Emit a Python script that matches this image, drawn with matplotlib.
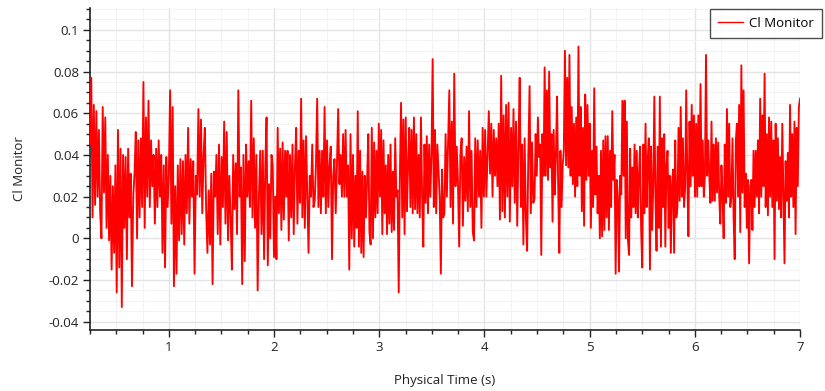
import numpy as np
import matplotlib
matplotlib.use("Agg")
import matplotlib.pyplot as plt
from matplotlib.ticker import MultipleLocator, FixedLocator, FixedFormatter

# Segment edges in time (s)
seg_edges = [0.25, 1.048, 1.905, 2.762, 3.619, 4.476, 5.333, 6.190, 7.0]

cl_seg1 = [0.045, 0.077, 0.010, 0.064, 0.016, 0.061, 0.020, 0.052, 0.012, 0.000, 0.063, 0.022,
           0.058, 0.005, 0.040, -0.001, 0.030, -0.015, 0.025, -0.007, 0.035, -0.026, 0.052, -0.014,
           0.043, -0.033, 0.040, 0.005, 0.039, -0.010, 0.043, 0.010, 0.031, -0.023, 0.020, 0.031,
           0.051, 0.000, 0.047, 0.010, 0.048, 0.015, 0.075, 0.005, 0.058, 0.020, 0.066, 0.015,
           0.047, 0.025, 0.040, 0.007, 0.043, 0.015, 0.047, 0.020, 0.040, -0.007, 0.035, -0.014,
           0.039, 0.015, 0.030, 0.071, 0.007, 0.063]
cl_seg2 = [-0.023, 0.025, -0.017, 0.035, -0.001, 0.038, 0.002, 0.037, -0.003, 0.040, 0.012, 0.053,
           0.007, 0.038, 0.020, 0.037, -0.017, 0.030, 0.021, 0.062, 0.020, 0.057, 0.012, 0.040,
           0.053, 0.014, -0.007, 0.023, -0.003, 0.031, -0.022, 0.032, 0.020, 0.040, 0.002, 0.045,
           -0.003, 0.039, 0.015, 0.056, 0.007, 0.051, -0.001, 0.030, 0.010, -0.015, 0.040, 0.014,
           0.036, 0.002, 0.071, 0.020, 0.034, -0.022, 0.040, -0.011, 0.045, 0.020, 0.037, 0.015,
           0.066, 0.010, 0.048, 0.005, 0.040, -0.025, 0.020, 0.042, 0.002, 0.042]
cl_seg3 = [-0.010, 0.035, 0.058, -0.013, 0.026, 0.000, 0.040, 0.035, -0.009, 0.020, -0.010, 0.053,
           0.012, 0.043, 0.004, 0.046, 0.009, 0.042, 0.020, 0.042, -0.001, 0.040, 0.010, 0.045,
           0.002, 0.035, 0.053, 0.007, 0.042, 0.017, 0.067, 0.010, 0.047, 0.005, 0.049, 0.020,
           -0.007, 0.030, 0.020, 0.045, 0.015, 0.018, 0.035, 0.067, 0.015, 0.042, 0.012, 0.042,
           0.020, 0.063, 0.012, 0.047, 0.015, 0.035, 0.044, -0.010, 0.030, 0.038, 0.012, 0.035,
           0.062, 0.026, 0.040, 0.020, 0.050, 0.020, 0.052, 0.020, 0.035, -0.015, 0.050, 0.000,
           0.040]
cl_seg4 = [-0.004, 0.030, 0.005, 0.061, -0.004, 0.042, -0.007, 0.032, -0.009, 0.030, 0.010, 0.028,
           0.050, 0.003, -0.003, 0.053, 0.000, 0.046, 0.010, 0.042, 0.012, 0.055, 0.020, 0.052,
           0.002, 0.047, 0.012, 0.035, 0.002, 0.040, 0.007, 0.045, 0.003, 0.032, 0.004, 0.048,
           0.020, 0.023, -0.026, 0.030, 0.065, 0.010, 0.057, 0.002, 0.058, 0.013, 0.035, 0.053,
           0.015, 0.052, 0.012, 0.058, 0.014, 0.050, 0.012, 0.040, 0.010, 0.058, 0.020, -0.004,
           0.045, 0.017, 0.049, 0.012, 0.045, 0.020, 0.040, 0.086, 0.015, 0.052, 0.012, 0.045,
           0.033, 0.020, -0.017, 0.033, 0.010]
cl_seg5 = [0.012, 0.050, 0.020, 0.045, 0.071, 0.015, 0.056, 0.007, 0.079, 0.025, 0.044, 0.027,
           -0.004, 0.040, 0.048, 0.006, 0.039, 0.018, 0.044, 0.013, 0.061, 0.015, 0.042, 0.003,
           -0.001, 0.048, 0.015, 0.047, 0.020, 0.042, 0.005, 0.053, 0.020, 0.052, 0.020, 0.040,
           0.061, 0.031, 0.055, 0.020, 0.052, 0.030, 0.048, 0.025, 0.055, 0.009, 0.078, 0.013,
           0.059, 0.010, 0.064, 0.020, 0.065, 0.008, 0.053, 0.025, 0.062, 0.017, 0.056, 0.006,
           0.045, 0.077, 0.015, 0.045, -0.003, 0.048, 0.010, -0.006, 0.040, 0.073, 0.012, 0.046,
           0.017]
cl_seg6 = [0.019, 0.050, 0.030, 0.058, 0.039, 0.045, -0.008, 0.050, 0.030, 0.082, 0.030, 0.071,
           0.028, 0.080, 0.034, 0.050, 0.008, 0.052, 0.021, 0.040, 0.068, 0.025, -0.007, 0.042,
           0.015, 0.035, 0.042, 0.090, 0.035, 0.077, 0.034, 0.088, 0.030, 0.063, 0.026, 0.055,
           0.020, 0.058, 0.025, 0.092, 0.030, 0.063, 0.013, 0.053, 0.006, 0.069, 0.028, 0.064,
           0.030, 0.055, 0.005, 0.042, 0.015, 0.072, 0.021, 0.044, 0.012, 0.030, 0.000, 0.042,
           0.001, 0.047, 0.004, 0.049, 0.010, 0.049, 0.004, 0.042, 0.015, 0.061, 0.028, 0.040,
           -0.017, 0.028, 0.020, -0.016, 0.030, 0.021, 0.066, 0.030]
cl_seg7 = [0.066, 0.000, 0.056, -0.001, -0.008, 0.043, 0.010, 0.034, 0.015, 0.045, 0.012, 0.042,
           0.010, 0.030, 0.044, 0.004, -0.014, 0.045, 0.012, 0.055, 0.015, 0.038, 0.048, -0.015,
           0.044, 0.004, 0.025, 0.068, 0.020, -0.006, 0.044, 0.005, 0.068, -0.004, 0.048, 0.015,
           0.050, -0.004, 0.035, 0.042, 0.005, 0.030, -0.007, 0.025, 0.033, -0.007, 0.047, 0.010,
           0.015, 0.053, 0.018, 0.063, 0.020, 0.048, 0.015, 0.024, 0.071, 0.030, 0.001, 0.056,
           0.025, 0.064, 0.030, 0.059, 0.020, 0.055, 0.020, 0.059, 0.025, 0.074, 0.025, 0.047,
           0.020, 0.030, 0.088, 0.030, 0.047, 0.030, 0.017, 0.056, 0.018, 0.045]
cl_seg8 = [0.018, 0.048, 0.022, 0.046, 0.020, 0.007, 0.035, 0.020, 0.000, 0.045, 0.017, 0.062,
           0.020, 0.055, 0.015, 0.020, 0.048, 0.010, -0.010, 0.047, 0.055, 0.020, 0.064, 0.003,
           0.083, 0.022, 0.071, 0.015, 0.031, 0.005, 0.028, -0.012, 0.025, 0.028, 0.004, 0.042,
           0.015, 0.042, 0.020, 0.047, 0.012, 0.067, 0.020, 0.059, 0.025, 0.079, 0.015, 0.050,
           0.011, 0.058, 0.020, 0.056, 0.015, 0.047, -0.010, 0.055, 0.018, 0.048, 0.014, 0.039,
           0.010, 0.055, 0.020, -0.012, 0.037, 0.018, 0.041, 0.010, 0.064, 0.020, 0.050, 0.015,
           0.056, 0.002, 0.053, 0.025, 0.063, 0.067]

segments = [cl_seg1, cl_seg2, cl_seg3, cl_seg4, cl_seg5, cl_seg6, cl_seg7, cl_seg8]

y_tick_vals = [0.1, 0.08, 0.06, 0.04, 0.02, 0.0, -0.02, -0.04]
y_tick_labels = ["0.1", "0.08", "0.06", "0.04", "0.02", "0", "-0.02", "-0.04"]
x_tick_vals = [1, 2, 3, 4, 5, 6, 7]
x_tick_labels = ["1", "2", "3", "4", "5", "6", "7"]

# Build time/value arrays
t_all, v_all = [], []
for i, seg in enumerate(segments):
    n = len(seg)
    ts = np.linspace(seg_edges[i], seg_edges[i + 1], n, endpoint=(i == len(segments) - 1))
    t_all.extend(ts)
    v_all.extend(seg)
t_all = np.array(t_all)
v_all = np.array(v_all)

plt.rcParams['font.family'] = ['Open Sans', 'DejaVu Sans']
fig = plt.figure(figsize=(8.25, 3.91), dpi=100)
ax = fig.add_axes([90 / 825, 1 - 330 / 391, 710 / 825, 322 / 391])

ax.plot(t_all, v_all, color='#ff0000', linewidth=1.35, label='Cl Monitor', zorder=3)

ax.set_xlim(0.25, 7.0)
ax.set_ylim(-0.044, 0.1105)

ax.xaxis.set_major_locator(FixedLocator(x_tick_vals))
ax.xaxis.set_major_formatter(FixedFormatter(x_tick_labels))
ax.xaxis.set_minor_locator(MultipleLocator(0.25))
ax.yaxis.set_major_locator(FixedLocator(y_tick_vals))
ax.yaxis.set_major_formatter(FixedFormatter(y_tick_labels))
ax.yaxis.set_minor_locator(MultipleLocator(0.005))

ax.grid(True, which='major', color='#e4e4e4', linewidth=1.0, zorder=0)
ax.grid(True, which='minor', color='#f3f3f3', linewidth=0.8, zorder=0)
ax.set_axisbelow(True)

for s in ['top', 'right']:
    ax.spines[s].set_visible(False)
for s in ['left', 'bottom']:
    ax.spines[s].set_color('#222222')
    ax.spines[s].set_linewidth(1.2)

ax.tick_params(axis='both', which='major', direction='out', length=5, width=1,
               color='#222222', labelsize=9.5, labelcolor='#222222', pad=3)
ax.tick_params(axis='both', which='minor', direction='out', length=3, width=1, color='#222222')

ax.set_xlabel('Physical Time (s)', fontsize=9.5, color='#222222', labelpad=14)
ax.set_ylabel('Cl Monitor', fontsize=9.5, color='#222222', labelpad=16)

leg = fig.legend(loc='upper right', bbox_to_anchor=(822 / 825, 1 - 9 / 391),
                 fontsize=9.5, frameon=True, fancybox=False, borderpad=0.6,
                 handlelength=1.9, handletextpad=0.45, borderaxespad=0)
leg.get_frame().set_edgecolor('#222222')
leg.get_frame().set_linewidth(1.0)
for line in leg.get_lines():
    line.set_linewidth(1.0)

fig.savefig('out.png', dpi=100)
